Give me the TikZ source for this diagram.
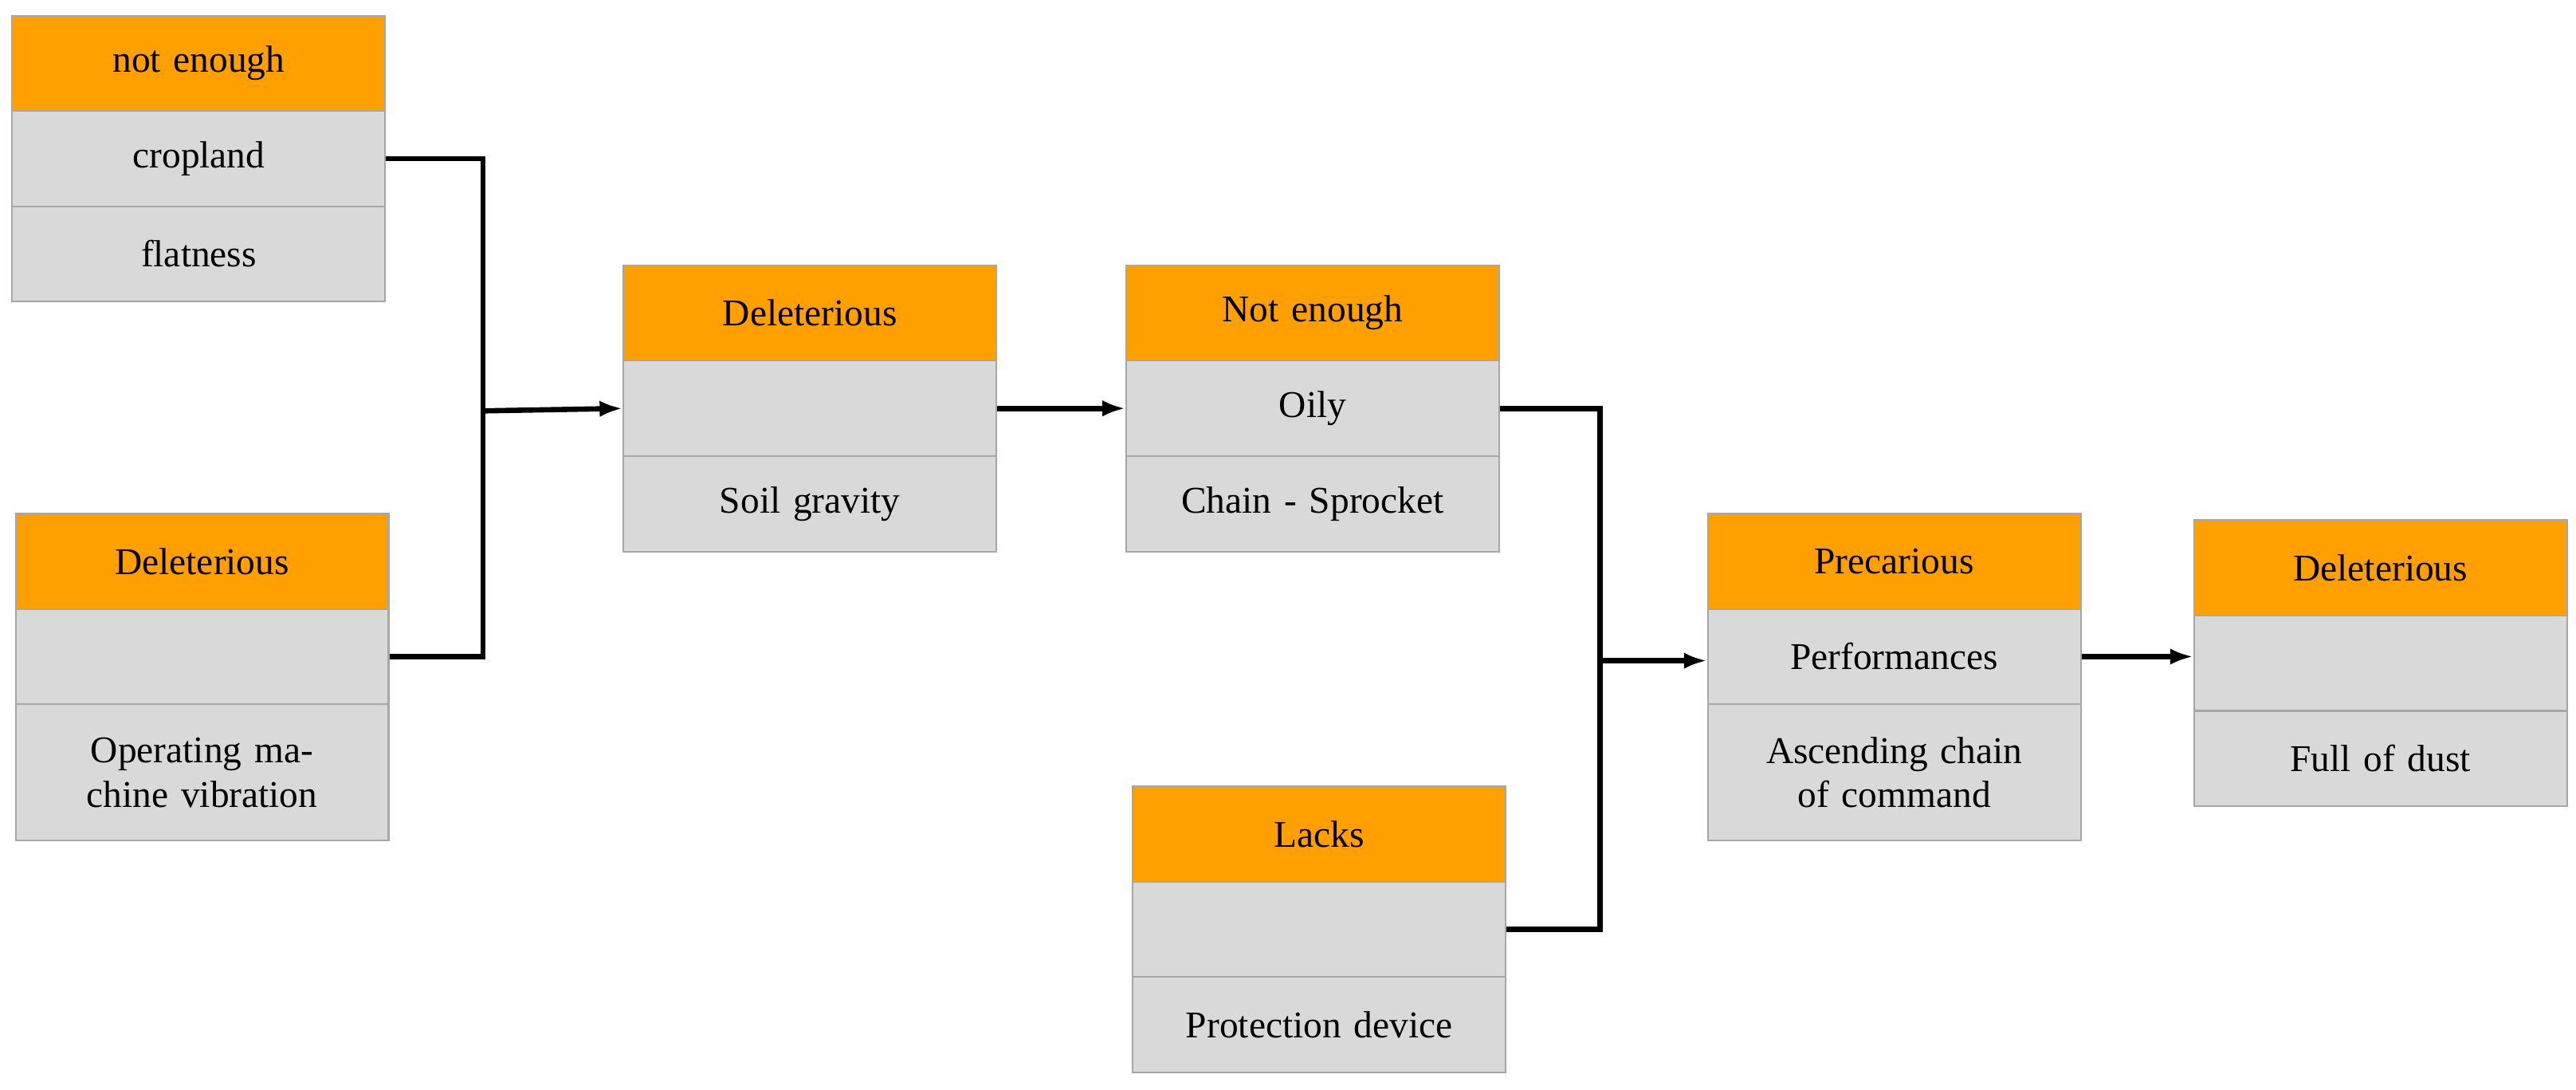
\documentclass[tikz,border=0pt]{standalone}
\usepackage{fontspec}
\setmainfont{Liberation Serif}
\usetikzlibrary{arrows.meta}
\definecolor{hd}{HTML}{FF9F00}
\definecolor{cl}{HTML}{D9D9D9}
\definecolor{bd}{HTML}{A6A6A6}
\begin{document}
\begin{tikzpicture}[x=0.5pt,y=-0.5pt,
 cell/.style={draw=bd,line width=0.5pt,anchor=north west,inner sep=0pt,minimum width=113.5pt,text width=110pt,align=center,font=\fontsize{11.5}{13.5}\selectfont},
 hdr/.style={cell,fill=hd,minimum height=29pt},
 row/.style={cell,fill=cl,minimum height=29pt},
 tall/.style={cell,fill=cl,minimum height=41.5pt},
 con/.style={line width=1.6pt,black},
 arr/.style={con,-{Latex[length=7pt,width=5pt]}}]
\useasboundingbox (0,0) rectangle (1568,663);
% A
\node[hdr] (A0) at (7,9) {not enough};
\node[row] (A1) at (7,67) {cropland};
\node[row] (A2) at (7,125) {flatness};
% B
\node[hdr] (B0) at (9,312) {Deleterious};
\node[row] (B1) at (9,370) {};
\node[tall] (B2) at (9,428) {Operating machine vibration};
% C
\node[hdr] (C0) at (379,161) {Deleterious};
\node[row] (C1) at (379,219) {};
\node[row] (C2) at (379,277) {Soil gravity};
% D
\node[hdr] (D0) at (685,161) {Not enough};
\node[row] (D1) at (685,219) {Oily};
\node[row] (D2) at (685,277) {Chain - Sprocket};
% E
\node[hdr] (E0) at (689,478) {Lacks};
\node[row] (E1) at (689,536) {};
\node[row] (E2) at (689,594) {Protection device};
% F
\node[hdr] (F0) at (1039,312) {Precarious};
\node[row] (F1) at (1039,370) {Performances};
\node[tall] (F2) at (1039,428) {Ascending chain of command};
% G
\node[hdr] (G0) at (1335,316) {Deleterious};
\node[row] (G1) at (1335,374) {};
\node[row] (G2) at (1335,432) {Full of dust};
% connectors
\coordinate (j1) at (294,250);
\coordinate (j2) at (974,402);
\draw[con] (A1.east) -| (j1) |- (B1.east);
\draw[arr] (j1) -- (C1.west);
\draw[arr] (C1.east) -- (D1.west);
\draw[con] (D1.east) -| (j2) |- (E1.east);
\draw[arr] (j2) -- (j2 -| F1.west);
\draw[arr] (F1.east) -- (F1.east -| G1.west);
\end{tikzpicture}
\end{document}
